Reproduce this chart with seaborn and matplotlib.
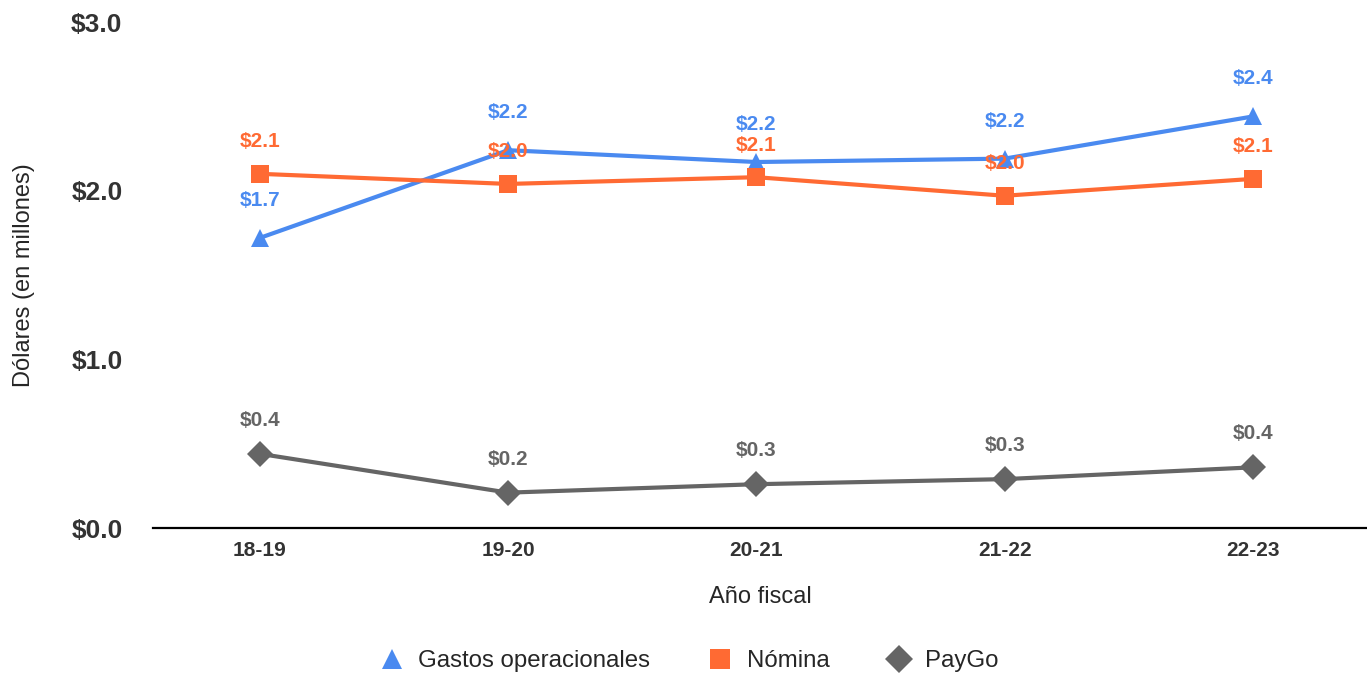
import pandas as pd
import seaborn as sns
import matplotlib.pyplot as plt

sns.set_style("white")
plt.rcParams['font.family'] = ['Liberation Sans', 'DejaVu Sans']

years = ['18-19', '19-20', '20-21', '21-22', '22-23']
gastos = [1.72, 2.24, 2.17, 2.19, 2.44]
nomina = [2.10, 2.04, 2.08, 1.97, 2.07]
paygo = [0.44, 0.21, 0.26, 0.29, 0.36]

series = ['Gastos operacionales', 'Nómina', 'PayGo']
colors = {'Gastos operacionales': '#4a8af0', 'Nómina': '#ff6a33', 'PayGo': '#656565'}
markers = {'Gastos operacionales': '^', 'Nómina': 's', 'PayGo': 'D'}
offsets = {'Gastos operacionales': 27, 'Nómina': 23, 'PayGo': 24}

data = pd.DataFrame({
    'Año': years * 3,
    'Valor': gastos + nomina + paygo,
    'Serie': [s for s in series for _ in years],
})

fig = plt.figure(figsize=(13.67, 6.77), dpi=100)
ax = fig.add_axes([0.112, 0.22, 0.888, 0.7475])

sns.lineplot(data=data, x='Año', y='Valor', hue='Serie', style='Serie',
             palette=colors, markers=markers, dashes=False, linewidth=3,
             markersize=13, markeredgewidth=0, ax=ax)

# value labels above each point
for s, vals in zip(series, [gastos, nomina, paygo]):
    for i, v in enumerate(vals):
        ax.annotate(f'${v:.1f}', (i, v), xytext=(0, offsets[s]), textcoords='offset points',
                    ha='center', va='center', fontsize=15, fontweight='bold',
                    color=colors[s])

ax.set_ylim(0, 3)
ax.set_xlim(-0.43, 4.46)
ax.set_yticks([0, 1, 2, 3])
ax.set_yticklabels(['$0.0', '$1.0', '$2.0', '$3.0'])
ax.tick_params(axis='y', labelsize=19, labelcolor='#333333', length=0, pad=22)
ax.tick_params(axis='x', labelsize=15, labelcolor='#333333', length=0, pad=9)
for lab in ax.get_xticklabels() + ax.get_yticklabels():
    lab.set_fontweight('bold')

ax.set_xlabel('Año fiscal', fontsize=17, labelpad=19)
ax.set_ylabel('Dólares (en millones)', fontsize=17, labelpad=26)

for side in ['top', 'right', 'left']:
    ax.spines[side].set_visible(False)
ax.spines['bottom'].set_color('black')
ax.spines['bottom'].set_linewidth(1.6)

handles, labels = ax.get_legend_handles_labels()
ax.get_legend().remove()
for h in handles:
    h.set_linestyle('none')
fig.legend(handles, labels, loc='center', bbox_to_anchor=(0.5, 1 - 661 / 677),
           ncol=3, frameon=False, fontsize=17.3, columnspacing=1.9,
           handletextpad=0.1, markerscale=1.1)

fig.savefig('out.png', dpi=100)
